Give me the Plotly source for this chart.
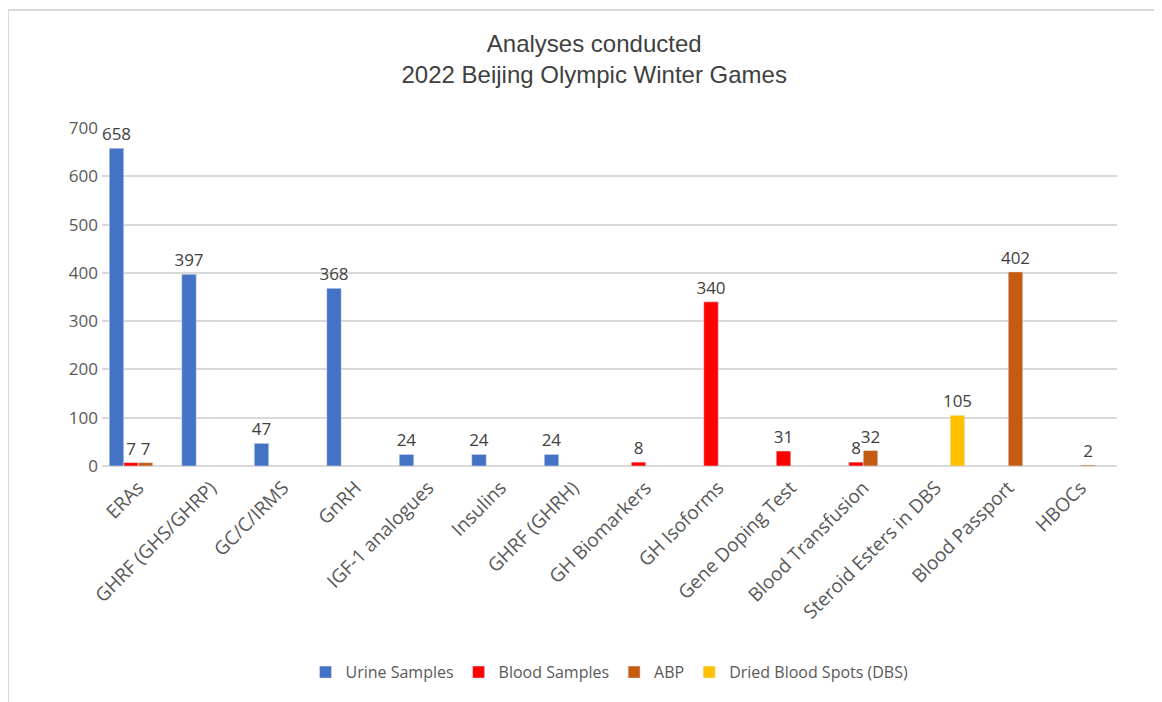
import plotly.graph_objects as go

categories = ["ERAs", "GHRF (GHS/GHRP)", "GC/C/IRMS", "GnRH", "IGF-1 analogues", "Insulins",
              "GHRF (GHRH)", "GH Biomarkers", "GH Isoforms", "Gene Doping Test",
              "Blood Transfusion", "Steroid Esters in DBS", "Blood Passport", "HBOCs"]
urine = [658, 397, 47, 368, 24, 24, 24, None, None, None, None, None, None, None]
blood = [7, None, None, None, None, None, None, 8, 340, 31, 8, None, None, None]
abp = [7, None, None, None, None, None, None, None, None, None, 32, None, 402, 2]
dbs = [None, None, None, None, None, None, None, None, None, None, None, 105, None, None]

series = [("Urine Samples", urine, "#4472C4"),
          ("Blood Samples", blood, "#FF0000"),
          ("ABP", abp, "#C55A11"),
          ("Dried Blood Spots (DBS)", dbs, "#FFC000")]

fig = go.Figure()
for name, vals, col in series:
    fig.add_trace(go.Bar(
        x=categories, y=vals, name=name, marker_color=col,
        text=[("" if v is None else str(v)) for v in vals],
        textposition="outside", cliponaxis=False, constraintext="none",
        textfont=dict(family="Open Sans, Liberation Sans, Arial", size=17, color="#404040"),
    ))

fig.update_layout(
    width=1154, height=694,
    paper_bgcolor="white", plot_bgcolor="white",
    margin=dict(l=94, r=45, t=120, b=236),
    barmode="group", bargap=0.2, bargroupgap=0,
    title=dict(text="Analyses conducted<br>2022 Beijing Olympic Winter Games",
               x=0.508, xanchor="center", y=0.937, yanchor="middle",
               font=dict(family="Liberation Sans Narrow, Liberation Sans, Arial", size=24, color="#404040")),
    legend=dict(orientation="h", x=0.5, xanchor="center", y=-0.61, yanchor="middle",
                font=dict(family="Open Sans, Liberation Sans, Arial", size=16, color="#595959"),
                itemwidth=30, traceorder="normal"),
    font=dict(family="Open Sans, Liberation Sans, Arial", color="#595959"),
    showlegend=True,
)
fig.update_yaxes(range=[0, 700], dtick=100, showgrid=True, gridcolor="#D9D9D9", gridwidth=2,
                 zeroline=True, zerolinecolor="#D9D9D9", zerolinewidth=2, automargin=False,
                 tickfont=dict(size=17, color="#595959"), ticks="", ticklabelstandoff=3)
fig.update_xaxes(tickangle=-45, tickfont=dict(size=19, color="#595959"), showline=False,
                 ticks="", automargin=False, ticklabelstandoff=6)
fig.add_shape(type="rect", xref="paper", yref="paper", x0=-0.0926, x1=1.06, y0=-0.72, y1=1.349,
              line=dict(color="#D9D9D9", width=2), fillcolor="rgba(0,0,0,0)", layer="below")

fig.write_html("out.html")
